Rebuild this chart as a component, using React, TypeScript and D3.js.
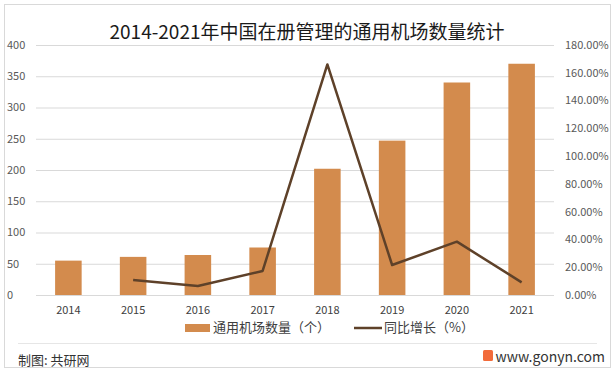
import React, { useRef, useEffect } from 'react';
import * as d3 from 'd3';

const years = ['2014', '2015', '2016', '2017', '2018', '2019', '2020', '2021'];
const airports = [55, 61, 64, 76, 202, 247, 340, 370];
const growth: (number | null)[] = [null, 10.8, 6.5, 17.3, 166, 21.6, 38.4, 9.1];
const leftTicks = [0, 50, 100, 150, 200, 250, 300, 350, 400];
const rightTicks = [0, 20, 40, 60, 80, 100, 120, 140, 160, 180];

const FONT = '"Noto Sans CJK SC", "Noto Sans", sans-serif';

const App: React.FC = () => {
  const svgRef = useRef<SVGSVGElement>(null);

  useEffect(() => {
    if (!svgRef.current) return;
    const W = 615;
    const H = 374;
    const plot = { left: 36, right: 554, top: 45, bottom: 295 };

    d3.select(svgRef.current).selectAll('*').remove();
    const svg = d3.select(svgRef.current).attr('width', W).attr('height', H);

    svg.append('rect')
      .attr('x', 4.5).attr('y', 4.5).attr('width', 606).attr('height', 363)
      .attr('fill', '#fff').attr('stroke', '#d9d9d9');

    const x = d3.scaleBand<string>().domain(years).range([plot.left, plot.right]).paddingInner(0.59).paddingOuter(0.295);
    const y = d3.scaleLinear().domain([0, 400]).range([plot.bottom, plot.top]);
    const y2 = d3.scaleLinear().domain([0, 180]).range([plot.bottom, plot.top]);

    // grid
    svg.append('g').selectAll('line').data(leftTicks).enter().append('line')
      .attr('x1', plot.left).attr('x2', plot.right)
      .attr('y1', d => y(d) + 0.5).attr('y2', d => y(d) + 0.5)
      .attr('stroke', '#d9d9d9').attr('stroke-width', 1);

    // left axis labels
    svg.append('g').selectAll('text').data(leftTicks).enter().append('text')
      .attr('x', 7).attr('y', d => y(d)).attr('dy', '0.35em')
      .style('font-family', FONT).style('font-size', '11px').attr('fill', '#595959')
      .text(d => String(d));

    // right axis labels
    svg.append('g').selectAll('text').data(rightTicks).enter().append('text')
      .attr('x', 565).attr('y', d => y2(d)).attr('dy', '0.35em')
      .style('font-family', FONT).style('font-size', '11px').attr('fill', '#595959')
      .text(d => d.toFixed(2) + '%');

    // x labels
    svg.append('g').selectAll('text').data(years).enter().append('text')
      .attr('x', d => (x(d) as number) + x.bandwidth() / 2).attr('y', 314)
      .attr('text-anchor', 'middle')
      .style('font-family', FONT).style('font-size', '11px').attr('fill', '#404040')
      .text(d => d);

    // bars
    svg.append('g').selectAll('rect').data(airports).enter().append('rect')
      .attr('x', (d, i) => x(years[i]) as number)
      .attr('y', d => y(d))
      .attr('width', x.bandwidth())
      .attr('height', d => plot.bottom - y(d))
      .attr('fill', '#d38b4d');

    // growth line
    const pts = growth.map((g, i) => ({ year: years[i], g })).filter(p => p.g !== null) as { year: string; g: number }[];
    svg.append('path')
      .datum(pts)
      .attr('fill', 'none')
      .attr('stroke', '#5e4129')
      .attr('stroke-width', 2.5)
      .attr('stroke-linejoin', 'round')
      .attr('d', d3.line<{ year: string; g: number }>()
        .x(d => (x(d.year) as number) + x.bandwidth() / 2)
        .y(d => y2(d.g)));

    // title
    svg.append('text')
      .attr('x', 307).attr('y', 39).attr('text-anchor', 'middle')
      .style('font-family', FONT).style('font-size', '19px').attr('fill', '#1a1a1a')
      .text('2014-2021年中国在册管理的通用机场数量统计');

    // legend
    const legend = svg.append('g');
    legend.append('rect').attr('x', 185).attr('y', 324).attr('width', 25).attr('height', 8).attr('fill', '#d38b4d');
    legend.append('text').attr('x', 213).attr('y', 332)
      .style('font-family', FONT).style('font-size', '13px').attr('fill', '#404040')
      .text('通用机场数量（个）');
    legend.append('line').attr('x1', 354).attr('x2', 382).attr('y1', 328).attr('y2', 328)
      .attr('stroke', '#5e4129').attr('stroke-width', 2.5);
    legend.append('text').attr('x', 384).attr('y', 332)
      .style('font-family', FONT).style('font-size', '13px').attr('fill', '#404040')
      .text('同比增长（%）');

    // footer
    svg.append('line').attr('x1', 18).attr('x2', 597).attr('y1', 343.5).attr('y2', 343.5)
      .attr('stroke', '#e6e6e6');
    svg.append('text').attr('x', 18).attr('y', 365)
      .style('font-family', FONT).style('font-size', '13px').attr('fill', '#333')
      .text('制图: 共研网');
    svg.append('rect').attr('x', 483).attr('y', 350).attr('width', 10).attr('height', 11).attr('rx', 1.5).attr('fill', '#f26b3a');
    svg.append('text').attr('x', 605).attr('y', 362).attr('text-anchor', 'end')
      .style('font-family', FONT).style('font-size', '14px').attr('fill', '#333')
      .text('www.gonyn.com');
  }, []);

  return <svg ref={svgRef} style={{ position: 'absolute', left: 0, top: 0 }} />;
};

export default App;
